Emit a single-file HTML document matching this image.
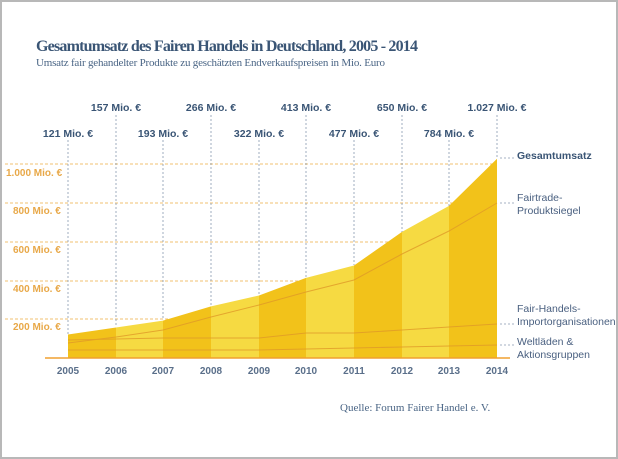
<!DOCTYPE html>
<html><head><meta charset="utf-8"><style>
body{margin:0;background:#fff}
svg{display:block}
.s{font-family:"Liberation Sans",sans-serif}
</style></head><body>
<svg width="618" height="459" viewBox="0 0 618 459" xmlns="http://www.w3.org/2000/svg">
<rect x="0" y="0" width="618" height="459" fill="#fff"/>
<rect x="1" y="1" width="616" height="457" fill="none" stroke="#b8b8b8" stroke-width="2"/>
<text x="36" y="51" font-family="Liberation Serif,serif" font-weight="bold" font-size="16" fill="#3a5575" textLength="382">Gesamtumsatz des Fairen Handels in Deutschland, 2005 - 2014</text>
<text x="36" y="66" font-family="Liberation Serif,serif" font-size="11" fill="#4a6585" textLength="349">Umsatz fair gehandelter Produkte zu geschätzten Endverkaufspreisen in Mio. Euro</text>
<g stroke="#f0c070" stroke-dasharray="3,2" stroke-width="1">
<line x1="5" y1="164" x2="497" y2="164"/><line x1="5" y1="203" x2="497" y2="203"/>
<line x1="5" y1="242" x2="497" y2="242"/><line x1="5" y1="281" x2="497" y2="281"/>
<line x1="5" y1="319" x2="497" y2="319"/>
</g>
<g class="s" font-size="10" font-weight="bold" fill="#e8a848">
<text x="6" y="176">1.000 Mio. €</text><text x="13" y="214">800 Mio. €</text>
<text x="13" y="253">600 Mio. €</text><text x="13" y="292">400 Mio. €</text>
<text x="13" y="330">200 Mio. €</text>
</g>
<defs><clipPath id="c"><polygon points="68,334.5 116,327.5 163,320.6 211,306.4 259,295.5 306,277.9 354,265.5 402,231.9 449,205.9 497,158.8 497,358 68,358"/></clipPath></defs>
<g clip-path="url(#c)">
<rect x="68" y="150" width="48" height="210" fill="#f2c21a"/>
<rect x="116" y="150" width="47" height="210" fill="#f6da42"/>
<rect x="163" y="150" width="48" height="210" fill="#f2c21a"/>
<rect x="211" y="150" width="48" height="210" fill="#f6da42"/>
<rect x="259" y="150" width="47" height="210" fill="#f2c21a"/>
<rect x="306" y="150" width="48" height="210" fill="#f6da42"/>
<rect x="354" y="150" width="48" height="210" fill="#f2c21a"/>
<rect x="402" y="150" width="47" height="210" fill="#f6da42"/>
<rect x="449" y="150" width="48" height="210" fill="#f2c21a"/>
</g>
<g fill="none" stroke="#e09a28" stroke-width="1" opacity="0.8">
<polyline points="68,343 116,337 163,330 211,317 259,305 306,292 354,280 402,254 449,231 497,203"/>
<polyline points="68,340 116,339 163,338 211,338 259,338 306,333 354,333 402,330 449,327 497,324"/>
<polyline points="68,350 116,350 163,350 211,350 259,350 306,349 354,348 402,347 449,346 497,345"/>
</g>
<line x1="45" y1="358" x2="510" y2="358" stroke="#f0a030" stroke-width="1.5"/>
<g stroke="#8898b0" stroke-dasharray="2,2" stroke-width="0.8">
<line x1="68" y1="140" x2="68" y2="334"/><line x1="116" y1="115" x2="116" y2="327"/>
<line x1="163" y1="140" x2="163" y2="320"/><line x1="211" y1="115" x2="211" y2="306"/>
<line x1="259" y1="140" x2="259" y2="295"/><line x1="306" y1="115" x2="306" y2="278"/>
<line x1="354" y1="140" x2="354" y2="265"/><line x1="402" y1="115" x2="402" y2="232"/>
<line x1="449" y1="140" x2="449" y2="206"/><line x1="497" y1="115" x2="497" y2="159"/>
<line x1="500" y1="158" x2="515" y2="158"/><line x1="500" y1="203" x2="515" y2="203"/>
<line x1="500" y1="324" x2="515" y2="324"/><line x1="500" y1="345" x2="515" y2="345"/>
</g>
<g class="s" font-size="10.5" font-weight="bold" fill="#3a5575" text-anchor="middle">
<text x="68" y="137">121 Mio. €</text><text x="116" y="111">157 Mio. €</text>
<text x="163" y="137">193 Mio. €</text><text x="211" y="111">266 Mio. €</text>
<text x="259" y="137">322 Mio. €</text><text x="306" y="111">413 Mio. €</text>
<text x="354" y="137">477 Mio. €</text><text x="402" y="111">650 Mio. €</text>
<text x="449" y="137">784 Mio. €</text><text x="497" y="111">1.027 Mio. €</text>
</g>
<g class="s" font-size="10" font-weight="bold" fill="#5a6f8a" text-anchor="middle">
<text x="68" y="374">2005</text><text x="116" y="374">2006</text><text x="163" y="374">2007</text>
<text x="211" y="374">2008</text><text x="259" y="374">2009</text><text x="306" y="374">2010</text>
<text x="354" y="374">2011</text><text x="402" y="374">2012</text><text x="449" y="374">2013</text>
<text x="497" y="374">2014</text>
</g>
<g class="s" font-size="10.5" fill="#4a6080">
<text x="517" y="159" font-weight="bold" fill="#3a5575">Gesamtumsatz</text>
<text x="517" y="201">Fairtrade-</text><text x="517" y="214">Produktsiegel</text>
<text x="517" y="312">Fair-Handels-</text><text x="517" y="325">Importorganisationen</text>
<text x="517" y="345">Weltläden &amp;</text><text x="517" y="358">Aktionsgruppen</text>
</g>
<text x="340" y="411" font-family="Liberation Serif,serif" font-size="11" fill="#4a6585">Quelle: Forum Fairer Handel e. V.</text>
</svg>
</body></html>
